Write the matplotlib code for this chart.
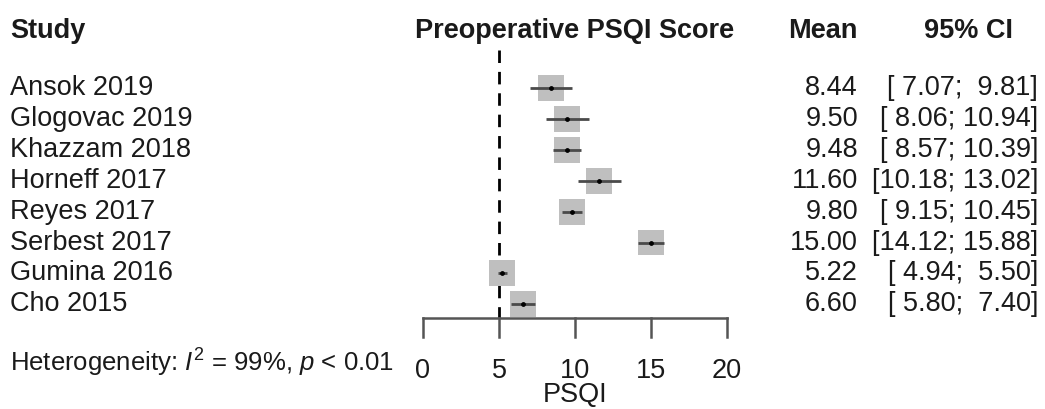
import numpy as np
import matplotlib.pyplot as plt
from matplotlib.transforms import blended_transform_factory

studies = ["Ansok 2019", "Glogovac 2019", "Khazzam 2018", "Horneff 2017",
           "Reyes 2017", "Serbest 2017", "Gumina 2016", "Cho 2015"]
means = [8.44, 9.50, 9.48, 11.60, 9.80, 15.00, 5.22, 6.60]
lower = [7.07, 8.06, 8.57, 10.18, 9.15, 14.12, 4.94, 5.80]
upper = [9.81, 10.94, 10.39, 13.02, 10.45, 15.88, 5.50, 7.40]
ref_value = 5
xticks = [0, 5, 10, 15, 20]

plt.rcParams['font.family'] = ['Liberation Sans', 'DejaVu Sans']
plt.rcParams['mathtext.fontset'] = 'custom'
plt.rcParams['mathtext.rm'] = 'Liberation Sans'
plt.rcParams['mathtext.it'] = 'Liberation Sans:italic'

W, H = 1045, 409
fig = plt.figure(figsize=(W / 100, H / 100), dpi=100)

# forest axes: x 0..20 spans pixels 423..727, rows ~31 px apart starting at y=88
x0_px, x1_px = 423, 727
row0_px, row_h = 88, 30.9
r_top = (0 - row0_px) / row_h + 1
r_bot = (H - row0_px) / row_h + 1
ax = fig.add_axes([x0_px / W, 0, (x1_px - x0_px) / W, 1])
ax.set_xlim(0, 20)
ax.set_ylim(r_bot, r_top)
ax.axis("off")

def r_of(px):
    return (px - row0_px) / row_h + 1

rows = np.arange(1, len(studies) + 1)
fs = 19.5
txt = "#1a1a1a"

# reference line
ax.plot([ref_value, ref_value], [r_of(50), r_of(318)], color="black", lw=2,
        linestyle=(0, (4.5, 3.2)), zorder=1)

# CI lines and boxes
ax.hlines(rows, lower, upper, color="#4a4a4a", lw=2, zorder=3)
ax.scatter(means, rows, marker="s", s=350, color="#bfbfbf", edgecolor="none", zorder=2)
ax.scatter(means, rows, marker="o", s=6, color="black", zorder=4)

# x axis drawn manually
ax_y = r_of(318)
ax.plot([0, 20], [ax_y, ax_y], color="#555555", lw=1.8, clip_on=False)
for t in xticks:
    ax.plot([t, t], [ax_y, r_of(337)], color="#555555", lw=1.8, clip_on=False)
    ax.text(t, r_of(371), str(t), ha="center", va="center", fontsize=fs, color=txt)
ax.text(10, r_of(408), "PSQI", ha="center", va="bottom", fontsize=fs, color=txt)

# text columns
tr = blended_transform_factory(fig.transFigure, ax.transData)
hy = r_of(31)
ax.text(10 / W, hy, "Study", transform=tr, ha="left", va="center",
        fontsize=fs, fontweight="bold", color=txt)
ax.text(10, hy, "Preoperative PSQI Score", ha="center", va="center",
        fontsize=fs, fontweight="bold", color=txt)
ax.text(858 / W, hy, "Mean", transform=tr, ha="right", va="center",
        fontsize=fs, fontweight="bold", color=txt)
ax.text(968 / W, hy, "95% CI", transform=tr, ha="center", va="center",
        fontsize=fs, fontweight="bold", color=txt)

for r, s, m, lo, hi in zip(rows, studies, means, lower, upper):
    ax.text(10 / W, r, s, transform=tr, ha="left", va="center", fontsize=fs, color=txt)
    ax.text(858 / W, r, "%.2f" % m, transform=tr, ha="right", va="center",
            fontsize=fs, color=txt)
    ax.text(1038 / W, r, "[%5.2f; %5.2f]" % (lo, hi), transform=tr, ha="right",
            va="center", fontsize=fs, color=txt)

ax.text(10 / W, r_of(363), r"Heterogeneity: $I^2$ = 99%, $p$ < 0.01", transform=tr,
        ha="left", va="center", fontsize=18.5, color=txt)

plt.savefig("out.png", dpi=100)
